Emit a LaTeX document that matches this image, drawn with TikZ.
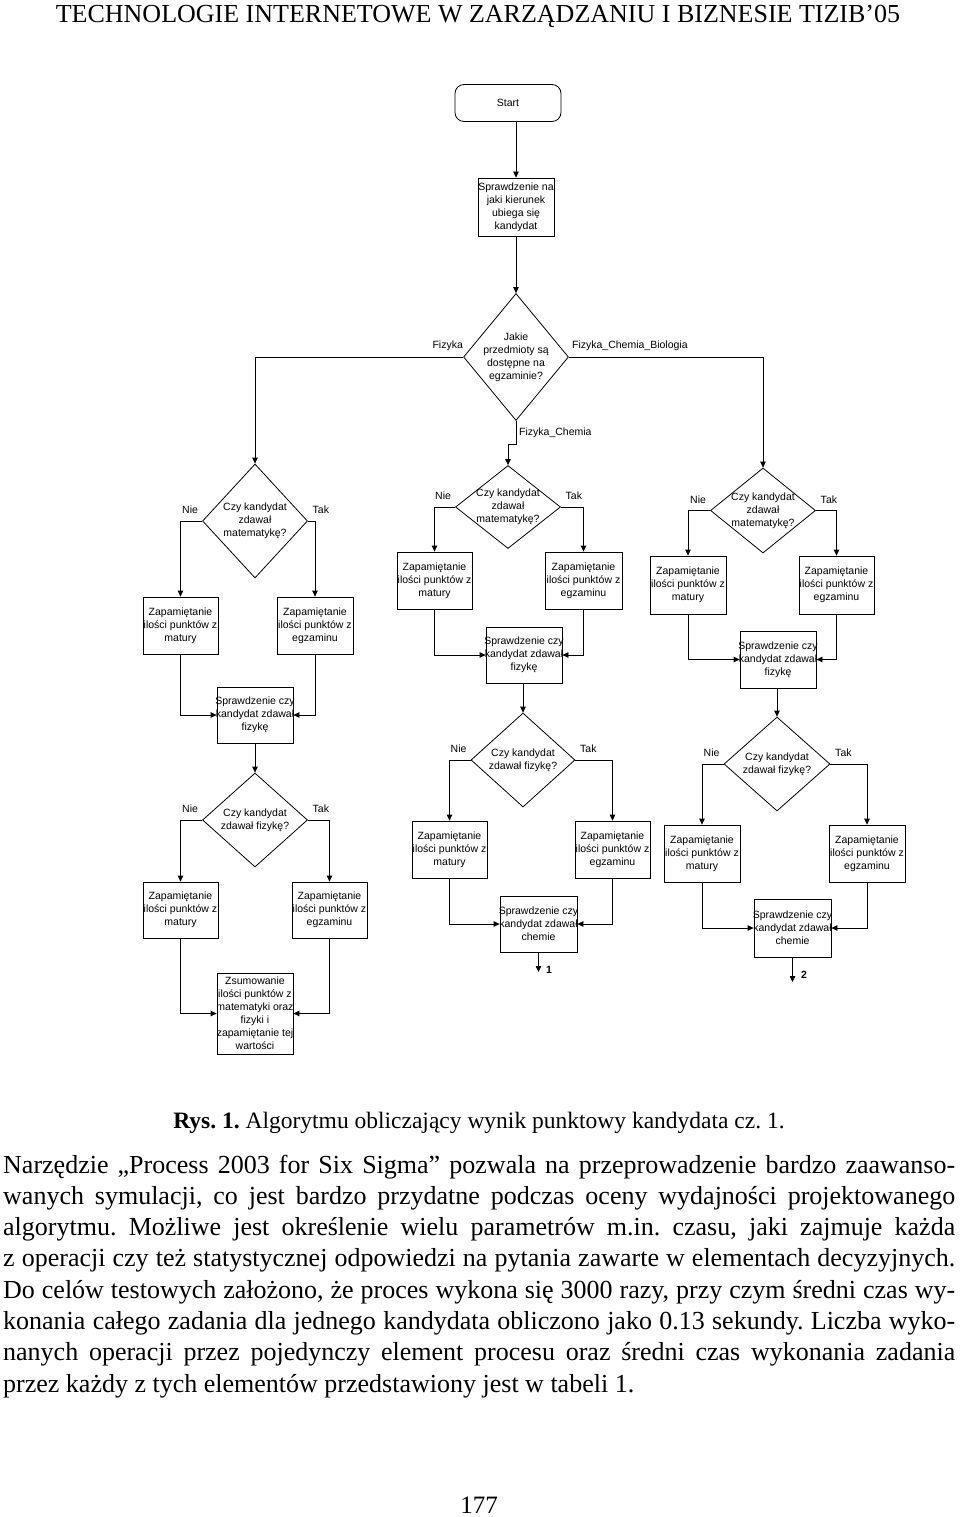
\documentclass[tikz,border=0pt]{standalone}
\usepackage{fontspec}
\setmainfont{Liberation Serif}
\newfontfamily\diagfont{Liberation Sans}
\usetikzlibrary{shapes.geometric,arrows.meta,calc}
\frenchspacing
\newcommand\mybox[6]{%
  \node[bx, minimum width=#4pt, minimum height=#5pt] (#1) at (#2,#3) {};
  \node[btxt] (#1t) at (#1) {#6};}
\newcommand\mydia[6]{%
  \node[dia, minimum width=#4pt, minimum height=#5pt] (#1) at (#2,#3) {};
  \node[btxt] (#1t) at (#1) {#6};}
\begin{document}
\frenchspacing
\begin{tikzpicture}[x=1pt,y=-1pt,
  bx/.style={draw, rectangle, inner sep=0pt, line width=0.8pt},
  dia/.style={draw, diamond, inner sep=0pt, line width=0.8pt},
  btxt/.style={inner sep=0pt, align=center, font=\diagfont\fontsize{10.5}{13}\selectfont},
  lab/.style={inner sep=0pt, font=\diagfont\fontsize{10.5}{13}\selectfont},
  arr/.style={draw, line width=0.8pt, -{Triangle[length=6pt,width=5.5pt]}},
  body/.style={inner sep=0pt, anchor=base west, font=\fontsize{26}{31}\selectfont}]
\useasboundingbox (0,0) rectangle (960,1517);
\fill[white] (0,0) rectangle (960,1517);

% header
\node[inner sep=0pt, anchor=base, font=\fontsize{26}{31}\selectfont] (hdr) at (478,23) {TECHNOLOGIE INTERNETOWE W ZARZĄDZANIU I BIZNESIE TIZIB’05};

% top part
\node[draw, rounded corners=9pt, line width=0.8pt, minimum width=106pt, minimum height=37pt, inner sep=0pt, font=\diagfont\fontsize{10.5}{13}\selectfont] (start) at (508,103) {Start};
\mybox{b1}{516}{207}{76}{58}{Sprawdzenie na\\jaki kierunek\\ubiega się\\kandydat}
\mydia{d1}{516}{357}{105}{127}{Jakie\\przedmioty są\\dostępne na\\egzaminie?}

% left branch
\mydia{d2}{255}{521}{105}{114}{Czy kandydat\\zdawał\\matematykę?}
\mybox{lam}{180.5}{625.5}{75}{57}{Zapamiętanie\\ilości punktów z\\matury}
\mybox{lae}{315}{625.5}{76}{57}{Zapamiętanie\\ilości punktów z\\egzaminu}
\mybox{laf}{255}{715}{76}{56}{Sprawdzenie czy\\kandydat zdawał\\fizykę}
\mydia{d5}{255}{820}{105}{94}{Czy kandydat\\zdawał fizykę?}
\mybox{lbm}{180.5}{910}{75}{56}{Zapamiętanie\\ilości punktów z\\matury}
\mybox{lbe}{329.5}{910}{75}{56}{Zapamiętanie\\ilości punktów z\\egzaminu}
\mybox{lsum}{255}{1013.5}{76}{81}{Zsumowanie\\ilości punktów z\\matematyki oraz\\fizyki i\\zapamiętanie tej\\wartości}

% middle branch
\mydia{d3}{508}{507}{105}{83}{Czy kandydat\\zdawał\\matematykę?}
\mybox{mam}{434.5}{580.5}{75}{57}{Zapamiętanie\\ilości punktów z\\matury}
\mybox{mae}{583.5}{580.5}{77}{57}{Zapamiętanie\\ilości punktów z\\egzaminu}
\mybox{maf}{524}{655}{76}{56}{Sprawdzenie czy\\kandydat zdawał\\fizykę}
\mydia{d6}{523}{760}{104}{94}{Czy kandydat\\zdawał fizykę?}
\mybox{mbm}{449.5}{849.5}{75}{57}{Zapamiętanie\\ilości punktów z\\matury}
\mybox{mbe}{612.5}{849.5}{75}{57}{Zapamiętanie\\ilości punktów z\\egzaminu}
\mybox{mbc}{538.5}{924}{77}{56}{Sprawdzenie czy\\kandydat zdawał\\chemie}
\coordinate (end1) at (538.5,972);

% right branch
\mydia{d4}{763}{510.5}{105}{85}{Czy kandydat\\zdawał\\matematykę?}
\mybox{ram}{688}{585}{76}{58}{Zapamiętanie\\ilości punktów z\\matury}
\mybox{rae}{836.5}{585}{75}{58}{Zapamiętanie\\ilości punktów z\\egzaminu}
\mybox{raf}{778}{659.5}{76}{57}{Sprawdzenie czy\\kandydat zdawał\\fizykę}
\mydia{d7}{777}{764}{106}{94}{Czy kandydat\\zdawał fizykę?}
\mybox{rbm}{702}{853.5}{76}{57}{Zapamiętanie\\ilości punktów z\\matury}
\mybox{rbe}{867}{853.5}{76}{57}{Zapamiętanie\\ilości punktów z\\egzaminu}
\mybox{rbc}{792.5}{928}{77}{58}{Sprawdzenie czy\\kandydat zdawał\\chemie}
\coordinate (end2) at (792.5,982);

% connectors top
\draw[arr] (b1.north |- start.south) -- (b1.north);
\draw[arr] (b1.south) -- (d1.north);
\draw[arr] (d1.west) -| (d2.north);
\draw[arr] (d1.east) -| (d4.north);
\draw[arr] (d1.south) -- ++(0,23) -| (d3.north);
\node[lab, anchor=east] (lfiz) at ($(d1.west)+(0,-11)$) {Fizyka};
\node[lab, anchor=west] (lfcb) at ($(d1.east)+(3,-11)$) {Fizyka\_Chemia\_Biologia};
\node[lab, anchor=west] (lfc) at ($(d1.south)+(3,12)$) {Fizyka\_Chemia};

% left connectors
\draw[arr] (d2.west) -| (lam.north);
\draw[arr] (d2.east) -| (lae.north);
\draw[arr] (lam.south) |- (laf.west);
\draw[arr] (lae.south) |- (laf.east);
\draw[arr] (laf.south) -- (d5.north);
\draw[arr] (d5.west) -| (lbm.north);
\draw[arr] (d5.east) -| (lbe.north);
\draw[arr] (lbm.south) |- (lsum.west);
\draw[arr] (lbe.south) |- (lsum.east);

% middle connectors
\draw[arr] (d3.west) -| (mam.north);
\draw[arr] (d3.east) -| (mae.north);
\draw[arr] (mam.south) |- (maf.west);
\draw[arr] (mae.south) |- (maf.east);
\draw[arr] (d6.north |- maf.south) -- (d6.north);
\draw[arr] (d6.west) -| (mbm.north);
\draw[arr] (d6.east) -| (mbe.north);
\draw[arr] (mbm.south) |- (mbc.west);
\draw[arr] (mbe.south) |- (mbc.east);
\draw[arr] (mbc.south) -- (end1);
\node[inner sep=0pt, font=\diagfont\bfseries\fontsize{10.5}{13}\selectfont] (n1) at (549,970) {1};

% right connectors
\draw[arr] (d4.west) -| (ram.north);
\draw[arr] (d4.east) -| (rae.north);
\draw[arr] (ram.south) |- (raf.west);
\draw[arr] (rae.south) |- (raf.east);
\draw[arr] (d7.north |- raf.south) -- (d7.north);
\draw[arr] (d7.west) -| (rbm.north);
\draw[arr] (d7.east) -| (rbe.north);
\draw[arr] (rbm.south) |- (rbc.west);
\draw[arr] (rbe.south) |- (rbc.east);
\draw[arr] (rbc.south) -- (end2);
\node[inner sep=0pt, font=\diagfont\bfseries\fontsize{10.5}{13}\selectfont] (n2) at (804,975) {2};

% Nie / Tak labels
\foreach \d in {d2,d3,d4,d5,d6,d7}{
  \node[lab] (\d nie) at ($(\d.west)+(-12,-11)$) {Nie};
  \node[lab] (\d tak) at ($(\d.east)+(13,-11)$) {Tak};
}

% caption
\node[inner sep=0pt, anchor=base, font=\fontsize{23.5}{28}\selectfont] (cap) at (479,1128) {\textbf{Rys. 1.} Algorytmu obliczający wynik punktowy kandydata cz. 1.};

% body text
\node[body] (t1) at (3,1173) {\makebox[952pt][s]{Narzędzie „Process 2003 for Six Sigma” pozwala na przeprowadzenie bardzo zaawanso-}};
\node[body] (t2) at (3,1204.3) {\makebox[952pt][s]{wanych symulacji, co jest bardzo przydatne podczas oceny wydajności projektowanego}};
\node[body] (t3) at (3,1235.6) {\makebox[952pt][s]{algorytmu. Możliwe jest określenie wielu parametrów m.in. czasu, jaki zajmuje każda}};
\node[body] (t4) at (3,1266.9) {\makebox[952pt][s]{z operacji czy też statystycznej odpowiedzi na pytania zawarte w elementach decyzyjnych.}};
\node[body] (t5) at (3,1298.2) {\makebox[952pt][s]{Do celów testowych założono, że proces wykona się 3000 razy, przy czym średni czas wy-}};
\node[body] (t6) at (3,1329.5) {\makebox[952pt][s]{konania całego zadania dla jednego kandydata obliczono jako 0.13 sekundy. Liczba wyko-}};
\node[body] (t7) at (3,1360.8) {\makebox[952pt][s]{nanych operacji przez pojedynczy element procesu oraz średni czas wykonania zadania}};
\node[body] (t8) at (3,1392.1) {przez każdy z tych elementów przedstawiony jest w tabeli 1.};

% page number
\node[inner sep=0pt, anchor=base, font=\fontsize{25}{30}\selectfont] (pg) at (479,1513) {177};
\end{tikzpicture}
\end{document}
